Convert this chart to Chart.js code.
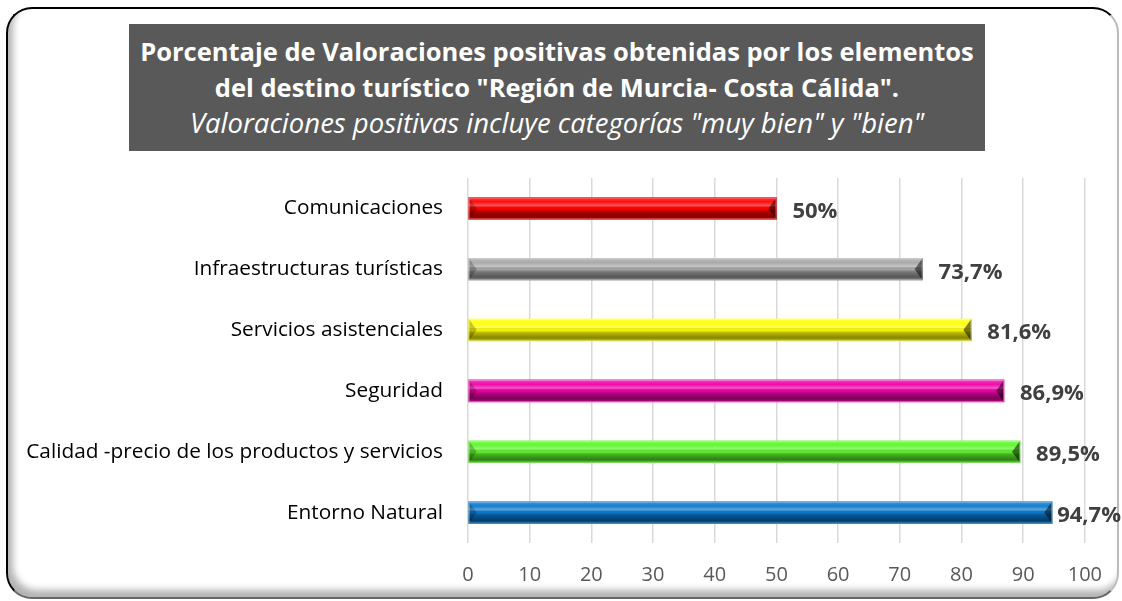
<!DOCTYPE html>
<html>
<head>
<meta charset="utf-8">
<script src="https://cdn.jsdelivr.net/npm/chart.js@4.4.0/dist/chart.umd.min.js"></script>
<style>
  html, body { margin:0; padding:0; background:#fff; }
  body { width:1122px; height:601px; position:relative; overflow:hidden; font-family:"Open Sans", sans-serif; }
  #marco {
    position:absolute; left:6px; top:7px; width:1113px; height:592px;
    border:2px solid #000; border-right-color:#bbb; border-bottom-color:#666;
    border-radius:26px; box-sizing:border-box;
    box-shadow: inset 5px -7px 7px rgba(0,0,0,0.30);
  }
  #titulo {
    position:absolute; left:129px; top:24px; width:856px; height:127px;
    background:#595959; color:#fff; text-align:center; white-space:nowrap;
  }
  #titulo .l1 { font-weight:bold; font-size:25.5px; line-height:36px; padding-top:9px; }
  #titulo .l3 { font-style:italic; font-size:27.5px; line-height:36px; }
  #grafico { position:absolute; left:0; top:0; }
</style>
</head>
<body>
<div id="marco"></div>
<canvas id="grafico" width="1122" height="601"></canvas>
<div id="titulo">
  <div class="l1">Porcentaje de Valoraciones positivas obtenidas por los elementos<br>del destino turístico "Región de Murcia- Costa Cálida".</div>
  <div class="l3">Valoraciones positivas incluye categorías "muy bien" y "bien"</div>
</div>
<script>
// datos
const categorias = ['Comunicaciones','Infraestructuras turísticas','Servicios asistenciales','Seguridad','Calidad -precio de los productos y servicios','Entorno Natural'];
const valores = [50, 73.7, 81.6, 86.9, 89.5, 94.7];
const colores = ['#FF0000','#A6A6A6','#FFFF00','#EE00A8','#5CF52A','#0A78CC'];
const ticksX = [0,10,20,30,40,50,60,70,80,90,100];

function fmt(v){ return String(v).replace('.', ',') + '%'; }

// efecto de bisel sobre cada barra + etiqueta de valor
const bisel = {
  id:'bisel',
  afterDatasetsDraw(chart){
    const ctx = chart.ctx;
    chart.getDatasetMeta(0).data.forEach((bar, i) => {
      const p = bar.getProps(['x','y','base','height'], true);
      const left = Math.min(p.base, p.x), right = Math.max(p.base, p.x);
      const top = p.y - p.height/2, bottom = p.y + p.height/2;
      ctx.save();
      let g = ctx.createLinearGradient(0, top, 0, bottom);
      g.addColorStop(0, 'rgba(255,255,255,0.25)');
      g.addColorStop(0.2, 'rgba(255,255,255,0.05)');
      g.addColorStop(0.38, 'rgba(255,255,255,0.35)');
      g.addColorStop(0.5, 'rgba(0,0,0,0.0)');
      g.addColorStop(0.62, 'rgba(0,0,0,0.28)');
      g.addColorStop(0.85, 'rgba(0,0,0,0.48)');
      g.addColorStop(1, 'rgba(0,0,0,0.2)');
      ctx.fillStyle = g;
      ctx.fillRect(left, top, right-left, bottom-top);
      // extremos
      ctx.fillStyle = 'rgba(0,0,0,0.5)';
      ctx.beginPath();
      ctx.moveTo(right, top); ctx.lineTo(right, bottom); ctx.lineTo(right-8, p.y); ctx.closePath();
      ctx.fill();
      ctx.fillStyle = 'rgba(0,0,0,0.22)';
      ctx.beginPath();
      ctx.moveTo(left, top); ctx.lineTo(left, bottom); ctx.lineTo(left+8, p.y); ctx.closePath();
      ctx.fill();
      ctx.strokeStyle = 'rgba(255,255,255,0.35)';
      ctx.lineWidth = 1;
      ctx.strokeRect(left+0.5, top+0.5, right-left-1, bottom-top-1);
      // etiqueta
      ctx.font = 'bold 22px "Open Sans"';
      ctx.fillStyle = '#404040';
      ctx.textBaseline = 'middle';
      const txt = fmt(valores[i]);
      const w = ctx.measureText(txt).width;
      const tx = Math.min(right + 16, 1121 - w);
      ctx.fillText(txt, tx, p.y + 3);
      ctx.restore();
    });
  }
};

new Chart(document.getElementById('grafico'), {
  type:'bar',
  data:{
    labels: categorias,
    datasets:[{
      data: valores,
      backgroundColor: colores,
      borderWidth: 0,
      barThickness: 22
    }]
  },
  options:{
    indexAxis:'y',
    responsive:false,
    animation:false,
    layout:{ padding:{ top:178, right:37, bottom:0, left:0 } },
    plugins:{ legend:{display:false}, tooltip:{enabled:false} },
    scales:{
      x:{
        min:0, max:100,
        afterBuildTicks(s){ s.ticks = ticksX.map(v => ({value:v})); },
        afterFit(s){ s.height = 58; },
        grid:{ color:'#D9D9D9', lineWidth:1.5, drawTicks:false },
        border:{ display:false },
        ticks:{ color:'#595959', font:{ family:'Open Sans', size:20 }, padding:20 }
      },
      y:{
        afterFit(s){ s.width = 468; },
        grid:{ display:false },
        border:{ display:false },
        ticks:{ color:'#000', font:{ family:'Open Sans', size:20.8 }, padding:17 }
      }
    }
  },
  plugins:[bisel]
});
</script>
</body>
</html>
